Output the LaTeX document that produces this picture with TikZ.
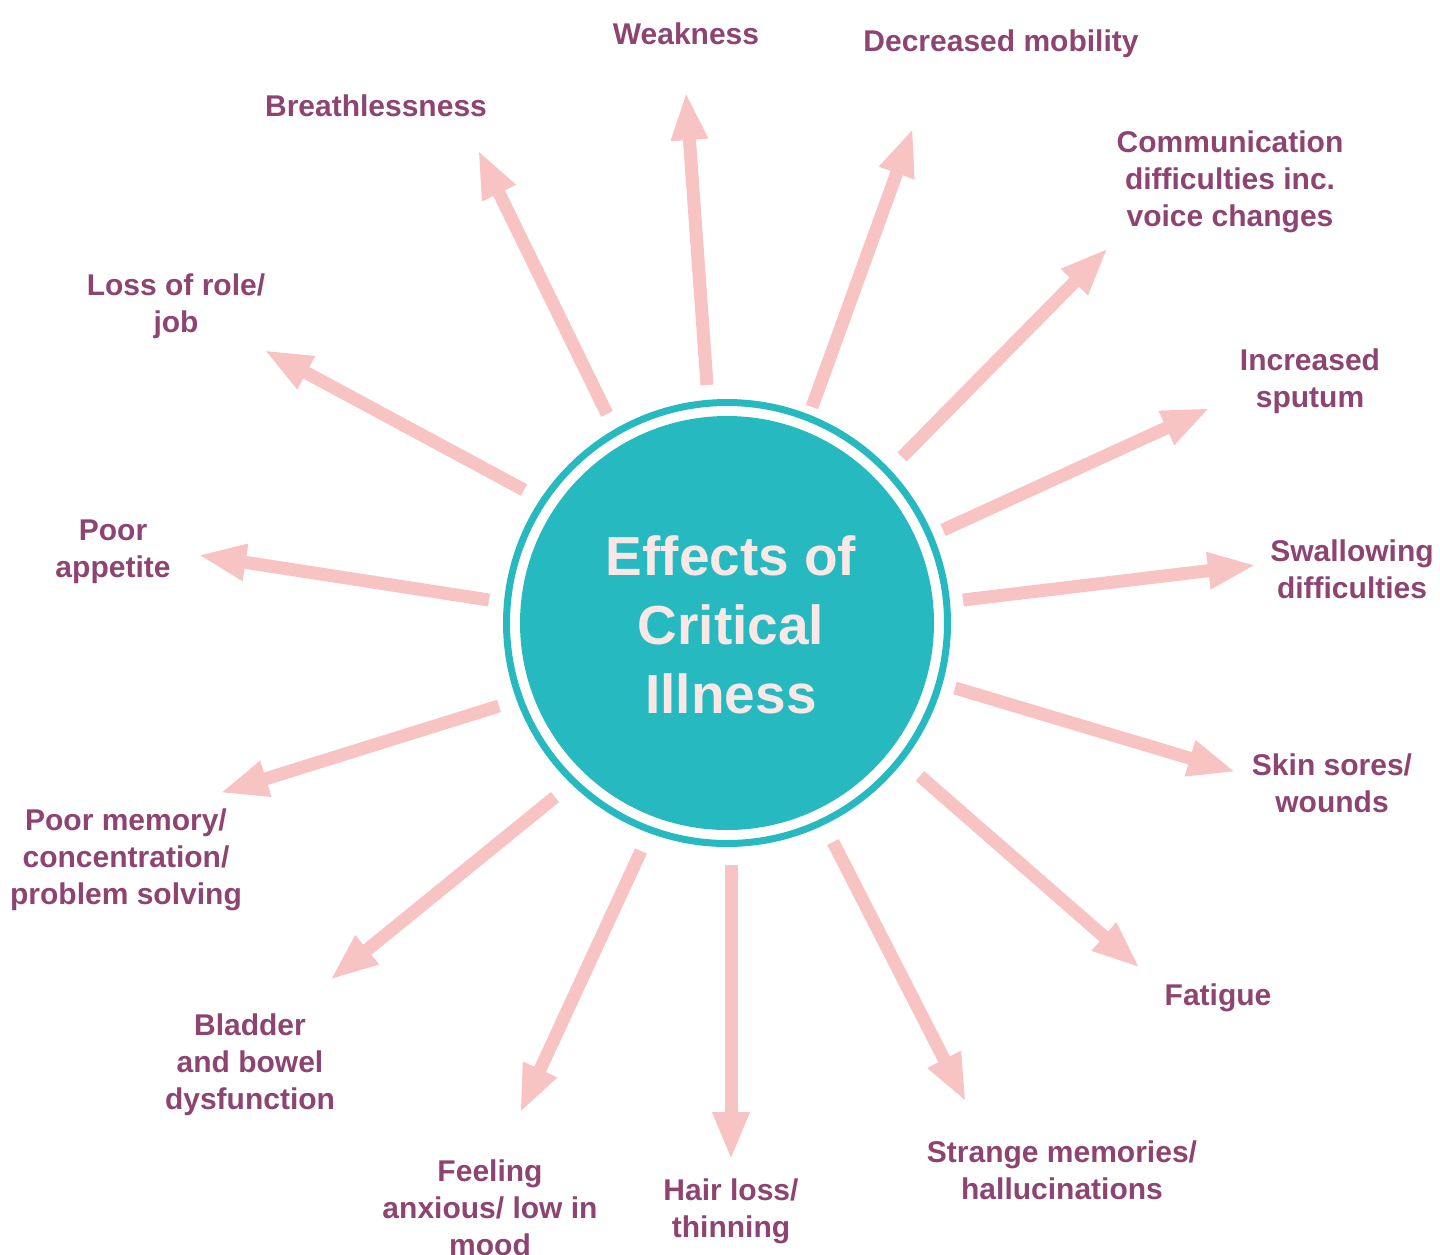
\documentclass[tikz,border=0pt]{standalone}
\usepackage{fontspec}
\setmainfont{Liberation Sans}
\usepackage{xcolor}
\usetikzlibrary{arrows.meta, positioning}
\definecolor{hubteal}{HTML}{26B9BF}
\definecolor{plum}{HTML}{8E4470}
\definecolor{blush}{HTML}{F8C3C3}
\definecolor{shell}{HTML}{FAE8E6}
\tikzset{
  effect/.style={text=plum, font=\bfseries\fontsize{30}{37}\selectfont, align=center},
  ray/.style={blush, line width=13pt, -{Triangle[width=34pt,length=48pt]}},
}

\begin{document}
\begin{tikzpicture}[x=1pt,y=-1pt]
\useasboundingbox (0,0) rectangle (1440,1254);

% centre
\node[circle, fill=hubteal, minimum size=414pt, inner sep=0pt] (hub) at (727,623) {};
\draw[hubteal, line width=7pt] (hub.center) circle (220.5pt);
\node[text=shell, font=\bfseries\fontsize{55}{69}\selectfont, align=center] (title) at (731,625) {Effects of\\Critical\\Illness};

% labels, clockwise from the top
\node[effect] (weak) at (686,34) {Weakness};
\node[effect] (mobil) at (1001,44) {Decreased mobility};
\node[effect] (comm) at (1230,182) {Communication\\difficulties inc.\\voice changes};
\node[effect] (sput) at (1310,381) {Increased\\sputum};
\node[effect] (swal) at (1352,569) {Swallowing\\difficulties};
\node[effect] (skin) at (1332,783) {Skin sores/\\wounds};
\node[effect] (fatig) at (1218,998) {Fatigue};
\node[effect] (strange) at (1062,1170) {Strange memories/\\hallucinations};
\node[effect] (hair) at (731,1211) {Hair loss/\\thinning};
\node[effect] (mood) at (490,1208) {Feeling\\anxious/ low in\\mood};
\node[effect] (bladder) at (250,1065) {Bladder\\and bowel\\dysfunction};
\node[effect] (memory) at (126,860) {Poor memory/\\concentration/\\problem solving};
\node[effect] (appet) at (113,552) {Poor\\appetite};
\node[effect] (role) at (176,306) {Loss of role/\\job};
\node[effect] (breath) at (376,106) {Breathlessness};

% arrows: name/start x/start y/tip x/tip y
\foreach \nm/\sx/\sy/\tx/\ty in {
  weak/707/385/686/92, mobil/812/407/913/128, comm/902/457/1108/248,
  sput/943/530/1210/408, swal/963/600/1256/565, skin/955/688/1236/772,
  fatig/920/776/1140/968, strange/833/842/966/1102, hair/731/865/731/1160,
  mood/641/851/520/1113, bladder/555/797/330/980, memory/499/706/220/793,
  appet/489/600/198/555, role/524/490/264/350, breath/607/414/478/150}{
  \coordinate (\nm-s) at (\sx,\sy);
  \coordinate (\nm-t) at (\tx,\ty);
  \draw[ray] (\nm-s) -- (\nm-t);
}
\end{tikzpicture}
\end{document}
